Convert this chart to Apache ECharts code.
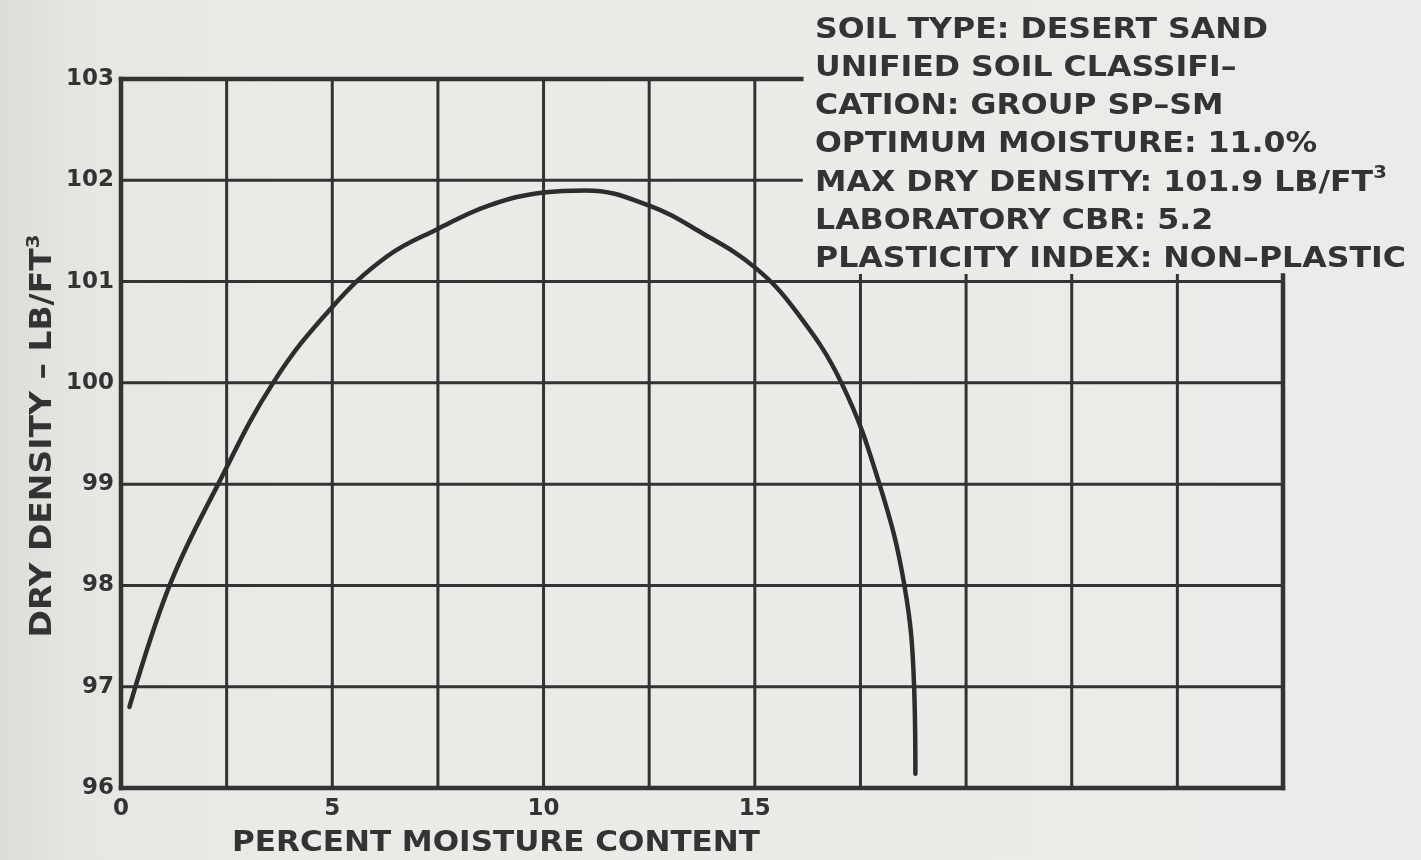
<!DOCTYPE html>
<html>
<head>
<meta charset="utf-8">
<script src="https://cdn.jsdelivr.net/npm/echarts@6/dist/echarts.min.js"></script>
<style>
  html, body { margin: 0; padding: 0; background: #e9e9e6; }
  #chart { width: 1421px; height: 860px; }
</style>
</head>
<body>
<div id="chart"></div>
<script>
// Moisture–density (compaction) curve for desert sand
const moisture = [0.2, 1.15, 2.3, 3.6, 5.0, 6.3, 7.5, 8.7, 10.0, 11.0, 12.5, 13.75, 15.0, 15.95, 17.05, 17.95, 18.54, 18.77, 18.8];
const density  = [96.8, 98.0, 99.0, 100.0, 100.75, 101.25, 101.52, 101.75, 101.88, 101.9, 101.75, 101.48, 101.14, 100.72, 100.0, 99.0, 98.0, 97.0, 96.14];

// Axis ticks
const xTicks = [0, 2.5, 5, 7.5, 10, 12.5, 15, 17.5, 20, 22.5, 25, 27.5];
const xTickLabels = [0, 5, 10, 15];
const yTicks = [96, 97, 98, 99, 100, 101, 102, 103];

// Soil test summary
const soilType = 'DESERT SAND';
const soilGroup = 'SP–SM';
const optimumMoisture = 11.0;
const maxDryDensity = 101.9;
const labCBR = 5.2;
const plasticity = 'NON–PLASTIC';

// Titles
const xTitle = 'PERCENT MOISTURE CONTENT';
const yTitle = 'DRY DENSITY – LB/FT{sup|3}';

// Layout of the grid: the upper right corner is left open for the summary text
const openCornerFromX = 16.1;   // upper horizontal rules stop here
const openCornerBelowY = 101;   // right-hand verticals only run below this level

const INK = '#333333';
const FONT = 'DejaVu Sans';

// Grid rules as segments [x1, y1, x2, y2, isFrame]
const xMin = xTicks[0], xMax = xTicks[xTicks.length - 1];
const yMin = yTicks[0], yMax = yTicks[yTicks.length - 1];
const rules = [];
yTicks.forEach(y => {
  const end = y > openCornerBelowY ? openCornerFromX : xMax;
  rules.push([xMin, y, end, y, (y === yMin || y === yMax) ? 1 : 0]);
});
xTicks.forEach(x => {
  const top = x > openCornerFromX ? openCornerBelowY + 0.06 : yMax;
  rules.push([x, yMin, x, top, (x === xMin || x === xMax) ? 1 : 0]);
});

const curve = moisture.map((m, i) => [m, density[i]]);

const summary = [
  `SOIL TYPE: ${soilType}`,
  'UNIFIED SOIL CLASSIFI–',
  `CATION: GROUP ${soilGroup}`,
  `OPTIMUM MOISTURE: ${optimumMoisture.toFixed(1)}%`,
  `MAX DRY DENSITY: ${maxDryDensity.toFixed(1)} LB/FT{sup|3}`,
  `LABORATORY CBR: ${labCBR.toFixed(1)}`,
  `PLASTICITY INDEX: ${plasticity}`
].join('\n');

const chart = echarts.init(document.getElementById('chart'), null, { renderer: 'canvas' });

chart.setOption({
  backgroundColor: {
    type: 'linear', x: 0, y: 0, x2: 1, y2: 0,
    colorStops: [
      { offset: 0, color: '#dcdcd8' },
      { offset: 0.06, color: '#e6e6e2' },
      { offset: 0.2, color: '#eaeae7' },
      { offset: 1, color: '#ebebe9' }
    ]
  },
  animation: false,
  grid: { left: 121, right: 138, top: 79, bottom: 72, containLabel: false },
  xAxis: {
    type: 'value',
    min: xMin,
    max: xMax,
    interval: 2.5,
    axisLine: { show: false },
    axisTick: { show: false },
    splitLine: { show: false },
    axisLabel: {
      margin: 10,
      fontFamily: FONT,
      fontWeight: 'bold',
      fontSize: 23,
      color: INK,
      showMaxLabel: false,
      formatter: v => (xTickLabels.indexOf(v) >= 0 ? String(v) : '')
    }
  },
  yAxis: {
    type: 'value',
    min: yMin,
    max: yMax,
    interval: 1,
    axisLine: { show: false },
    axisTick: { show: false },
    splitLine: { show: false },
    axisLabel: {
      margin: 7,
      fontFamily: FONT,
      fontWeight: 'bold',
      fontSize: 23,
      color: INK
    }
  },
  graphic: [
    {
      type: 'text',
      x: 815,
      y: 11,
      scaleX: 1.09,
      style: {
        text: summary,
        fontFamily: FONT,
        fontWeight: 'bold',
        fontSize: 29,
        lineHeight: 38.25,
        fill: INK,
        align: 'left',
        verticalAlign: 'top',
        rich: {
          sup: { fontFamily: FONT, fontWeight: 'bold', fontSize: 18, fill: INK, verticalAlign: 'top', lineHeight: 38.25 }
        }
      }
    },
    {
      type: 'text',
      x: 496,
      y: 843,
      scaleX: 1.07,
      style: {
        text: xTitle,
        fontFamily: FONT,
        fontWeight: 'bold',
        fontSize: 29,
        fill: INK,
        align: 'center',
        verticalAlign: 'middle'
      }
    },
    {
      type: 'text',
      x: 43,
      y: 436,
      rotation: Math.PI / 2,
      scaleX: 1.1,
      style: {
        text: yTitle,
        fontFamily: FONT,
        fontWeight: 'bold',
        fontSize: 30,
        lineHeight: 36,
        fill: INK,
        align: 'center',
        verticalAlign: 'middle',
        rich: {
          sup: { fontFamily: FONT, fontWeight: 'bold', fontSize: 18, fill: INK, verticalAlign: 'top', lineHeight: 36 }
        }
      }
    }
  ],
  series: [
    {
      type: 'custom',
      name: 'grid rules',
      clip: false,
      silent: true,
      z: 1,
      data: rules,
      encode: { x: [0, 2], y: [1, 3] },
      renderItem: (params, api) => {
        const a = api.coord([api.value(0), api.value(1)]);
        const b = api.coord([api.value(2), api.value(3)]);
        const frame = api.value(4) === 1;
        return {
          type: 'line',
          shape: { x1: a[0], y1: a[1], x2: b[0], y2: b[1] },
          style: { stroke: INK, lineWidth: frame ? 4.5 : 3, lineCap: 'square' }
        };
      }
    },
    {
      type: 'line',
      name: 'dry density',
      data: curve,
      smooth: 0.4,
      showSymbol: false,
      z: 3,
      lineStyle: { color: '#2d2d2d', width: 4.5, cap: 'round' }
    }
  ]
});
</script>
</body>
</html>
